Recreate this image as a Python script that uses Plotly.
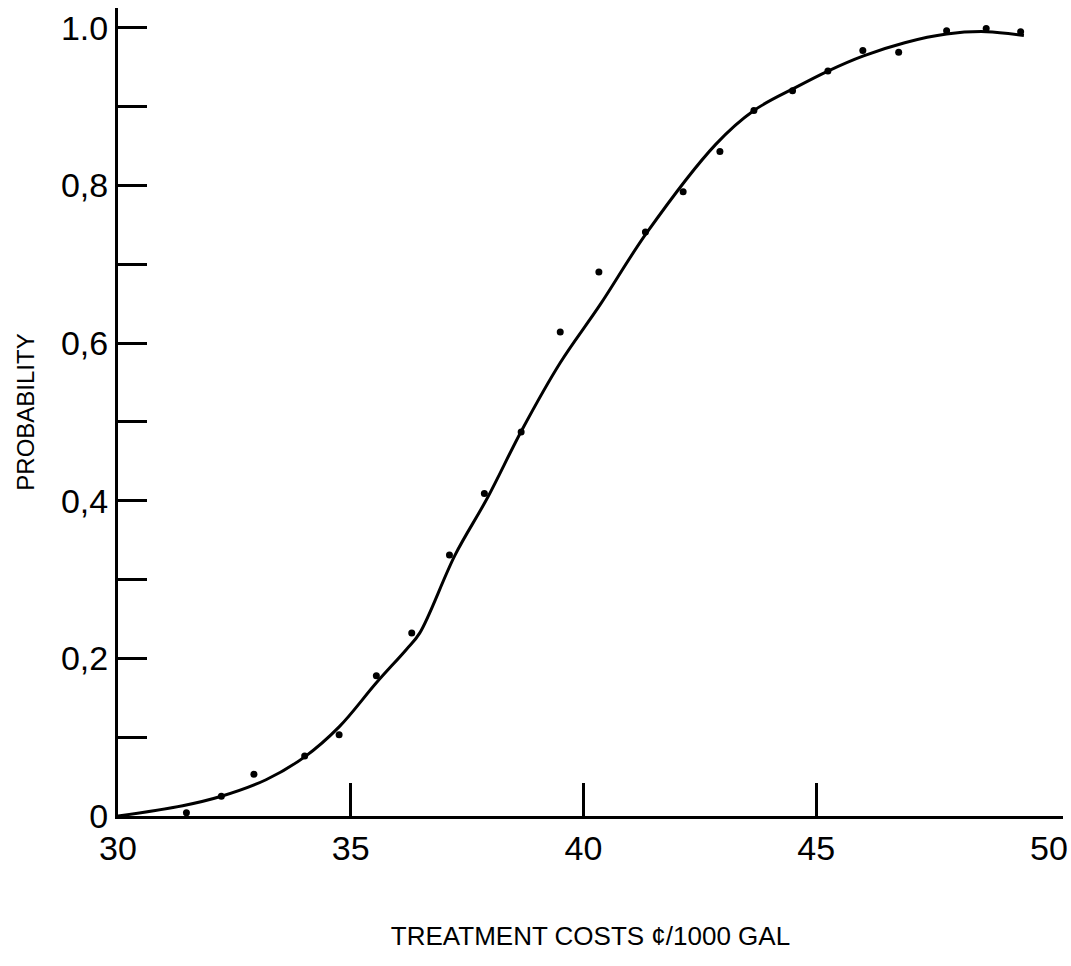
import plotly.graph_objects as go

# Observed points (treatment cost, probability)
obs_cost = [31.47, 32.22, 32.92, 34.01, 34.75, 35.55, 36.31, 37.12, 37.87, 38.66,
            39.50, 40.33, 41.33, 42.14, 42.93, 43.66, 44.49, 45.25, 46.00, 46.77,
            47.80, 48.65, 49.39]
obs_prob = [0.004, 0.025, 0.053, 0.076, 0.103, 0.178, 0.232, 0.331, 0.409, 0.487,
            0.614, 0.690, 0.741, 0.792, 0.843, 0.895, 0.920, 0.945, 0.971, 0.969,
            0.996, 0.999, 0.995]

# Fitted curve
fit_cost = [30.00, 31.39, 32.22, 33.18, 34.01, 34.75, 35.55, 36.19, 36.48, 37.24,
            37.94, 38.68, 39.50, 40.35, 41.36, 42.84, 43.66, 44.55, 45.25,
            46.00, 46.90, 47.80, 48.65, 49.46]
fit_prob = [0.000, 0.013, 0.025, 0.046, 0.075, 0.113, 0.169, 0.211, 0.232, 0.331,
            0.404, 0.490, 0.575, 0.648, 0.740, 0.852, 0.895, 0.924, 0.945,
            0.964, 0.981, 0.992, 0.995, 0.990]

x_tick_vals = [30, 35, 40, 45, 50]
x_tick_text = ["30", "35", "40", "45", "50"]
x_mark_vals = [35, 40, 45]
y_mark_vals = [0, 0.1, 0.2, 0.3, 0.4, 0.5, 0.6, 0.7, 0.8, 0.9, 1.0]
y_mark_text = ["0", "", "0,2", "", "0,4", "", "0,6", "", "0,8", "", "1.0"]

FONT = "Liberation Sans, Arial, sans-serif"

fig = go.Figure()
fig.add_trace(go.Scatter(x=fit_cost, y=fit_prob, mode="lines",
                         line=dict(color="black", width=3, shape="spline", smoothing=1.0),
                         showlegend=False, hoverinfo="skip"))
fig.add_trace(go.Scatter(x=obs_cost, y=obs_prob, mode="markers",
                         marker=dict(color="black", size=7),
                         showlegend=False))
# invisible trace for the tick-mark overlay axis
fig.add_trace(go.Scatter(x=[30], y=[0], xaxis="x2", mode="markers",
                         marker=dict(opacity=0), showlegend=False, hoverinfo="skip"))

fig.update_layout(
    width=1071, height=966,
    margin=dict(l=118, r=3, t=8, b=150),
    paper_bgcolor="white", plot_bgcolor="white",
    font=dict(family=FONT, color="black"),
    xaxis=dict(range=[30, 50.3], tickvals=x_tick_vals, ticktext=x_tick_text,
               ticks="", showgrid=False, zeroline=False, ticklabeloverflow="allow",
               showline=True, linecolor="black", linewidth=3,
               tickfont=dict(size=34, family=FONT),
               title=dict(text="TREATMENT COSTS ¢/1000 GAL",
                          font=dict(size=26, family=FONT), standoff=62)),
    xaxis2=dict(range=[30, 50.3], overlaying="x", side="bottom", anchor="y",
                tickvals=x_mark_vals, ticks="inside", ticklen=33, tickwidth=3,
                tickcolor="black", showticklabels=False, showgrid=False,
                zeroline=False, showline=False),
    yaxis=dict(range=[0, 1.025], tickvals=y_mark_vals, ticktext=y_mark_text,
               ticks="inside", ticklen=29, tickwidth=3, tickcolor="black",
               showgrid=False, zeroline=False,
               showline=True, linecolor="black", linewidth=3,
               tickfont=dict(size=34, family=FONT),
               title=dict(text="PROBABILITY", font=dict(size=24, family=FONT),
                          standoff=20)),
)

fig.write_html("out.html")
